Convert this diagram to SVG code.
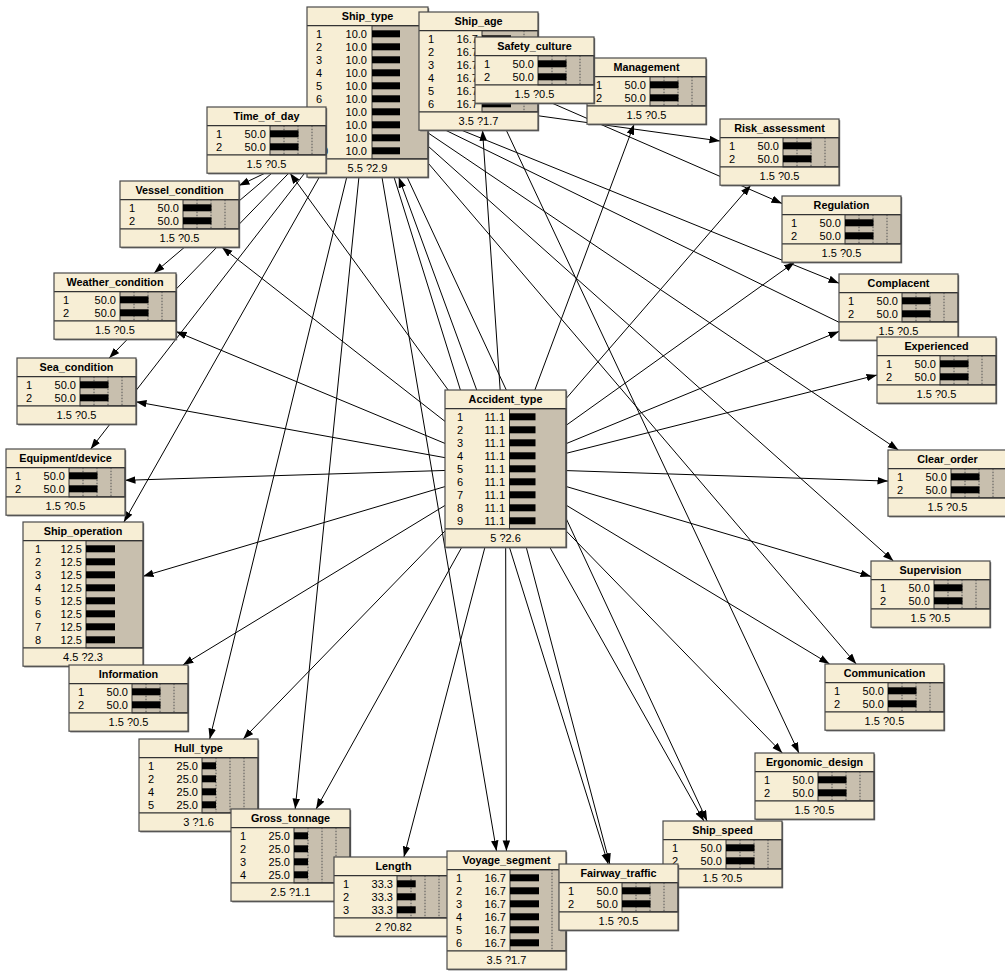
<svg xmlns="http://www.w3.org/2000/svg" xmlns:xlink="http://www.w3.org/1999/xlink" width="1005" height="971" viewBox="0 0 1005 971">
<style>
.box{fill:#F7EED5;stroke:none}
.sh{fill:#6a6a6a;stroke:none}
.ol{fill:none;stroke:#4a4a4a;stroke-width:1.2}
.gray{fill:#C8BFAE;stroke:#333;stroke-width:1}
.sep{stroke:#333;stroke-width:1.2;fill:none}
.dot{stroke:#555;stroke-width:1;stroke-dasharray:1.5,1.5;fill:none}
.bar{fill:#000}
text{font-family:"Liberation Sans",Arial,sans-serif;fill:#000}
.t{font-size:10.8px;font-weight:bold;text-anchor:middle}
.r{font-size:11px}
.v{text-anchor:end}
.f{font-size:11px;text-anchor:middle}
.e{stroke:#000;stroke-width:1;fill:none;marker-end:url(#ah)}
.en{stroke:#000;stroke-width:1;fill:none}
</style>
<defs>
<marker id="ah" markerUnits="userSpaceOnUse" markerWidth="11" markerHeight="8" refX="10.5" refY="3.75" orient="auto">
<path d="M0,0 L10.5,3.75 L0,7.5 Z" fill="#000"/>
</marker>
<g id="b2">
<rect class="sh" x="1.2" y="1.2" width="119" height="66.2"/>
<rect class="box" width="119" height="66.2"/>
<rect class="gray" x="63" y="18.7" width="56" height="29.2"/>
<path class="dot" d="M77 18.7V47.9M91 18.7V47.9M105 18.7V47.9"/>
<rect class="bar" x="63" y="23.3" width="28.5" height="7"/>
<rect class="bar" x="63" y="36.3" width="28.5" height="7"/>
<path class="sep" d="M0 18.7H119M0 47.9H119"/>
<text class="r" x="9" y="30.6">1</text><text class="r v" x="59" y="30.6">50.0</text>
<text class="r" x="9" y="43.6">2</text><text class="r v" x="59" y="43.6">50.0</text>
<text class="f" x="59.5" y="60.9">1.5 ?0.5</text>
<rect class="ol" width="119" height="66.2"/>
</g>
<g id="b6">
<rect class="sh" x="1.2" y="1.2" width="119" height="118.2"/>
<rect class="box" width="119" height="118.2"/>
<rect class="gray" x="63" y="18.7" width="56" height="81.2"/>
<path class="dot" d="M105 18.7V99.9"/>
<rect class="bar" x="63" y="23.3" width="29" height="7"/>
<rect class="bar" x="63" y="36.3" width="29" height="7"/>
<rect class="bar" x="63" y="49.3" width="29" height="7"/>
<rect class="bar" x="63" y="62.3" width="29" height="7"/>
<rect class="bar" x="63" y="75.3" width="29" height="7"/>
<rect class="bar" x="63" y="88.3" width="29" height="7"/>
<path class="sep" d="M0 18.7H119M0 99.9H119"/>
<text class="r" x="9" y="30.6">1</text><text class="r v" x="59" y="30.6">16.7</text>
<text class="r" x="9" y="43.6">2</text><text class="r v" x="59" y="43.6">16.7</text>
<text class="r" x="9" y="56.6">3</text><text class="r v" x="59" y="56.6">16.7</text>
<text class="r" x="9" y="69.6">4</text><text class="r v" x="59" y="69.6">16.7</text>
<text class="r" x="9" y="82.6">5</text><text class="r v" x="59" y="82.6">16.7</text>
<text class="r" x="9" y="95.6">6</text><text class="r v" x="59" y="95.6">16.7</text>
<text class="f" x="59.5" y="112.9">3.5 ?1.7</text>
<rect class="ol" width="119" height="118.2"/>
</g>
</defs>
<rect width="1005" height="971" fill="#fff"/>
<g id="connectors">
<path class="e" d="M505.5 468.6L482.5 130.2"/>
<path class="e" d="M505.5 468.6L634.1 124.2"/>
<path class="e" d="M505.5 468.6L750.8 185.2"/>
<path class="e" d="M505.5 468.6L794.6 262.2"/>
<path class="e" d="M505.5 468.6L839 331.4"/>
<path class="e" d="M505.5 468.6L877 375"/>
<path class="e" d="M505.5 468.6L888 481.1"/>
<path class="e" d="M505.5 468.6L871 576.5"/>
<path class="e" d="M505.5 468.6L829.6 664"/>
<path class="e" d="M505.5 468.6L782.3 753"/>
<path class="e" d="M505.5 468.6L703.9 821"/>
<path class="e" d="M505.5 468.6L609.8 864"/>
<path class="e" d="M505.5 468.6L506.4 851"/>
<path class="e" d="M505.5 468.6L403.9 857"/>
<path class="e" d="M505.5 468.6L316.1 809"/>
<path class="e" d="M505.5 468.6L243.2 739"/>
<path class="e" d="M505.5 468.6L182.9 665"/>
<path class="e" d="M505.5 468.6L143 576.3"/>
<path class="e" d="M505.5 468.6L125 480.3"/>
<path class="e" d="M505.5 468.6L136 401.8"/>
<path class="e" d="M505.5 468.6L176 331.5"/>
<path class="e" d="M505.5 468.6L221.9 247.2"/>
<path class="e" d="M505.5 468.6L290.1 173.2"/>
<path class="e" d="M505.5 468.6L398.7 177.2"/>
<path class="e" d="M367.5 92.1L720 141"/>
<path class="e" d="M367.5 92.1L839 283.2"/>
<path class="en" d="M367.5 92.1L870 337.4"/>
<path class="e" d="M367.5 92.1L898.4 450"/>
<path class="e" d="M367.5 92.1L893.4 561"/>
<path class="e" d="M367.5 92.1L856.2 664"/>
<path class="e" d="M367.5 92.1L707.1 821"/>
<path class="e" d="M367.5 92.1L608.2 864"/>
<path class="e" d="M367.5 92.1L496.5 851"/>
<path class="e" d="M367.5 92.1L295.2 809"/>
<path class="e" d="M367.5 92.1L209.7 739"/>
<path class="e" d="M367.5 92.1L123.9 522"/>
<path class="e" d="M367.5 92.1L90.7 449"/>
<path class="e" d="M367.5 92.1L109.2 358"/>
<path class="e" d="M367.5 92.1L154.1 273"/>
<path class="e" d="M478.5 71.1L239 185.6"/>
<path class="e" d="M478.5 71.1L782 203.4"/>
<path class="e" d="M478.5 71.1L798.9 753"/>
</g>
<g id="node-Ship_type" transform="translate(307,7)">
<rect class="sh" x="1.2" y="1.2" width="121" height="170.2"/>
<rect class="box" width="121" height="170.2"/>
<rect class="gray" x="65" y="18.7" width="56" height="133.2"/>
<rect class="bar" x="65" y="23.3" width="28" height="7"/>
<rect class="bar" x="65" y="36.3" width="28" height="7"/>
<rect class="bar" x="65" y="49.3" width="28" height="7"/>
<rect class="bar" x="65" y="62.3" width="28" height="7"/>
<rect class="bar" x="65" y="75.3" width="28" height="7"/>
<rect class="bar" x="65" y="88.3" width="28" height="7"/>
<rect class="bar" x="65" y="101.3" width="28" height="7"/>
<rect class="bar" x="65" y="114.3" width="28" height="7"/>
<rect class="bar" x="65" y="127.3" width="28" height="7"/>
<rect class="bar" x="65" y="140.3" width="28" height="7"/>
<path class="sep" d="M0 18.7H121M0 151.9H121"/>
<text class="t" x="60.5" y="13.3">Ship_type</text>
<text class="r" x="9" y="30.6">1</text><text class="r v" x="60" y="30.6">10.0</text>
<text class="r" x="9" y="43.6">2</text><text class="r v" x="60" y="43.6">10.0</text>
<text class="r" x="9" y="56.6">3</text><text class="r v" x="60" y="56.6">10.0</text>
<text class="r" x="9" y="69.6">4</text><text class="r v" x="60" y="69.6">10.0</text>
<text class="r" x="9" y="82.6">5</text><text class="r v" x="60" y="82.6">10.0</text>
<text class="r" x="9" y="95.6">6</text><text class="r v" x="60" y="95.6">10.0</text>
<text class="r" x="9" y="108.6">7</text><text class="r v" x="60" y="108.6">10.0</text>
<text class="r" x="9" y="121.6">8</text><text class="r v" x="60" y="121.6">10.0</text>
<text class="r" x="9" y="134.6">9</text><text class="r v" x="60" y="134.6">10.0</text>
<text class="r" x="9" y="147.6">10</text><text class="r v" x="60" y="147.6">10.0</text>
<text class="f" x="60.5" y="164.9">5.5 ?2.9</text>
<rect class="ol" width="121" height="170.2"/>
</g>
<g id="node-Ship_age" transform="translate(419,12)"><use xlink:href="#b6" href="#b6"/><text class="t" x="59.5" y="13.3">Ship_age</text></g>
<g id="node-Management" transform="translate(587,58)"><use xlink:href="#b2" href="#b2"/><text class="t" x="59.5" y="13.3">Management</text></g>
<g id="node-Safety_culture" transform="translate(475,37)"><use xlink:href="#b2" href="#b2"/><text class="t" x="59.5" y="13.3">Safety_culture</text></g>
<g id="node-Time_of_day" transform="translate(207,107)"><use xlink:href="#b2" href="#b2"/><text class="t" x="59.5" y="13.3">Time_of_day</text></g>
<g id="node-Vessel_condition" transform="translate(120,181)"><use xlink:href="#b2" href="#b2"/><text class="t" x="59.5" y="13.3">Vessel_condition</text></g>
<g id="node-Weather_condition" transform="translate(54,273)">
<rect class="sh" x="1.2" y="1.2" width="122" height="66.2"/>
<rect class="box" width="122" height="66.2"/>
<rect class="gray" x="66" y="18.7" width="56" height="29.2"/>
<path class="dot" d="M80 18.7V47.9M94 18.7V47.9M108 18.7V47.9"/>
<rect class="bar" x="66" y="23.3" width="28.5" height="7"/>
<rect class="bar" x="66" y="36.3" width="28.5" height="7"/>
<path class="sep" d="M0 18.7H122M0 47.9H122"/>
<text class="t" x="61" y="13.3">Weather_condition</text>
<text class="r" x="9" y="30.6">1</text><text class="r v" x="62" y="30.6">50.0</text>
<text class="r" x="9" y="43.6">2</text><text class="r v" x="62" y="43.6">50.0</text>
<text class="f" x="61" y="60.9">1.5 ?0.5</text>
<rect class="ol" width="122" height="66.2"/>
</g>
<g id="node-Sea_condition" transform="translate(17,358)"><use xlink:href="#b2" href="#b2"/><text class="t" x="59.5" y="13.3">Sea_condition</text></g>
<g id="node-Equipment_device" transform="translate(6,449)"><use xlink:href="#b2" href="#b2"/><text class="t" x="59.5" y="13.3">Equipment/device</text></g>
<g id="node-Ship_operation" transform="translate(23,522)">
<rect class="sh" x="1.2" y="1.2" width="120" height="144.2"/>
<rect class="box" width="120" height="144.2"/>
<rect class="gray" x="63" y="18.7" width="57" height="107.2"/>
<rect class="bar" x="63" y="23.3" width="29" height="7"/>
<rect class="bar" x="63" y="36.3" width="29" height="7"/>
<rect class="bar" x="63" y="49.3" width="29" height="7"/>
<rect class="bar" x="63" y="62.3" width="29" height="7"/>
<rect class="bar" x="63" y="75.3" width="29" height="7"/>
<rect class="bar" x="63" y="88.3" width="29" height="7"/>
<rect class="bar" x="63" y="101.3" width="29" height="7"/>
<rect class="bar" x="63" y="114.3" width="29" height="7"/>
<path class="sep" d="M0 18.7H120M0 125.9H120"/>
<text class="t" x="60" y="13.3">Ship_operation</text>
<text class="r" x="12" y="30.6">1</text><text class="r v" x="59" y="30.6">12.5</text>
<text class="r" x="12" y="43.6">2</text><text class="r v" x="59" y="43.6">12.5</text>
<text class="r" x="12" y="56.6">3</text><text class="r v" x="59" y="56.6">12.5</text>
<text class="r" x="12" y="69.6">4</text><text class="r v" x="59" y="69.6">12.5</text>
<text class="r" x="12" y="82.6">5</text><text class="r v" x="59" y="82.6">12.5</text>
<text class="r" x="12" y="95.6">6</text><text class="r v" x="59" y="95.6">12.5</text>
<text class="r" x="12" y="108.6">7</text><text class="r v" x="59" y="108.6">12.5</text>
<text class="r" x="12" y="121.6">8</text><text class="r v" x="59" y="121.6">12.5</text>
<text class="f" x="60" y="138.9">4.5 ?2.3</text>
<rect class="ol" width="120" height="144.2"/>
</g>
<g id="node-Information" transform="translate(69,665)"><use xlink:href="#b2" href="#b2"/><text class="t" x="59.5" y="13.3">Information</text></g>
<g id="node-Hull_type" transform="translate(139,739)">
<rect class="sh" x="1.2" y="1.2" width="119" height="92.2"/>
<rect class="box" width="119" height="92.2"/>
<rect class="gray" x="63" y="18.7" width="56" height="55.2"/>
<path class="dot" d="M77 18.7V73.9M91 18.7V73.9M105 18.7V73.9"/>
<rect class="bar" x="63" y="23.3" width="14" height="7"/>
<rect class="bar" x="63" y="36.3" width="14" height="7"/>
<rect class="bar" x="63" y="49.3" width="14" height="7"/>
<rect class="bar" x="63" y="62.3" width="14" height="7"/>
<path class="sep" d="M0 18.7H119M0 73.9H119"/>
<text class="t" x="59.5" y="13.3">Hull_type</text>
<text class="r" x="9" y="30.6">1</text><text class="r v" x="59" y="30.6">25.0</text>
<text class="r" x="9" y="43.6">2</text><text class="r v" x="59" y="43.6">25.0</text>
<text class="r" x="9" y="56.6">4</text><text class="r v" x="59" y="56.6">25.0</text>
<text class="r" x="9" y="69.6">5</text><text class="r v" x="59" y="69.6">25.0</text>
<text class="f" x="59.5" y="86.9">3 ?1.6</text>
<rect class="ol" width="119" height="92.2"/>
</g>
<g id="node-Gross_tonnage" transform="translate(231,809)">
<rect class="sh" x="1.2" y="1.2" width="119" height="92.2"/>
<rect class="box" width="119" height="92.2"/>
<rect class="gray" x="63" y="18.7" width="56" height="55.2"/>
<path class="dot" d="M77 18.7V73.9M91 18.7V73.9M105 18.7V73.9"/>
<rect class="bar" x="63" y="23.3" width="14" height="7"/>
<rect class="bar" x="63" y="36.3" width="14" height="7"/>
<rect class="bar" x="63" y="49.3" width="14" height="7"/>
<rect class="bar" x="63" y="62.3" width="14" height="7"/>
<path class="sep" d="M0 18.7H119M0 73.9H119"/>
<text class="t" x="59.5" y="13.3">Gross_tonnage</text>
<text class="r" x="9" y="30.6">1</text><text class="r v" x="59" y="30.6">25.0</text>
<text class="r" x="9" y="43.6">2</text><text class="r v" x="59" y="43.6">25.0</text>
<text class="r" x="9" y="56.6">3</text><text class="r v" x="59" y="56.6">25.0</text>
<text class="r" x="9" y="69.6">4</text><text class="r v" x="59" y="69.6">25.0</text>
<text class="f" x="59.5" y="86.9">2.5 ?1.1</text>
<rect class="ol" width="119" height="92.2"/>
</g>
<g id="node-Length" transform="translate(334,857)">
<rect class="sh" x="1.2" y="1.2" width="119" height="79.2"/>
<rect class="box" width="119" height="79.2"/>
<rect class="gray" x="63" y="18.7" width="56" height="42.2"/>
<path class="dot" d="M77 18.7V60.9M91 18.7V60.9M105 18.7V60.9"/>
<rect class="bar" x="63" y="23.3" width="18.7" height="7"/>
<rect class="bar" x="63" y="36.3" width="18.7" height="7"/>
<rect class="bar" x="63" y="49.3" width="18.7" height="7"/>
<path class="sep" d="M0 18.7H119M0 60.9H119"/>
<text class="t" x="59.5" y="13.3">Length</text>
<text class="r" x="9" y="30.6">1</text><text class="r v" x="59" y="30.6">33.3</text>
<text class="r" x="9" y="43.6">2</text><text class="r v" x="59" y="43.6">33.3</text>
<text class="r" x="9" y="56.6">3</text><text class="r v" x="59" y="56.6">33.3</text>
<text class="f" x="59.5" y="73.9">2 ?0.82</text>
<rect class="ol" width="119" height="79.2"/>
</g>
<g id="node-Voyage_segment" transform="translate(447,851)"><use xlink:href="#b6" href="#b6"/><text class="t" x="59.5" y="13.3">Voyage_segment</text></g>
<g id="node-Ship_speed" transform="translate(663,821)"><use xlink:href="#b2" href="#b2"/><text class="t" x="59.5" y="13.3">Ship_speed</text></g>
<g id="node-Fairway_traffic" transform="translate(559,864)"><use xlink:href="#b2" href="#b2"/><text class="t" x="59.5" y="13.3">Fairway_traffic</text></g>
<g id="node-Ergonomic_design" transform="translate(755,753)"><use xlink:href="#b2" href="#b2"/><text class="t" x="59.5" y="13.3">Ergonomic_design</text></g>
<g id="node-Communication" transform="translate(825,664)"><use xlink:href="#b2" href="#b2"/><text class="t" x="59.5" y="13.3">Communication</text></g>
<g id="node-Supervision" transform="translate(871,561)"><use xlink:href="#b2" href="#b2"/><text class="t" x="59.5" y="13.3">Supervision</text></g>
<g id="node-Clear_order" transform="translate(888,450)"><use xlink:href="#b2" href="#b2"/><text class="t" x="59.5" y="13.3">Clear_order</text></g>
<g id="node-Complacent" transform="translate(839,274)"><use xlink:href="#b2" href="#b2"/><text class="t" x="59.5" y="13.3">Complacent</text></g>
<g id="node-Experienced" transform="translate(877,337)"><use xlink:href="#b2" href="#b2"/><text class="t" x="59.5" y="13.3">Experienced</text></g>
<g id="node-Regulation" transform="translate(782,196)"><use xlink:href="#b2" href="#b2"/><text class="t" x="59.5" y="13.3">Regulation</text></g>
<g id="node-Risk_assessment" transform="translate(720,119)"><use xlink:href="#b2" href="#b2"/><text class="t" x="59.5" y="13.3">Risk_assessment</text></g>
<g id="node-Accident_type" transform="translate(445,390)">
<rect class="sh" x="1.2" y="1.2" width="121" height="157.2"/>
<rect class="box" width="121" height="157.2"/>
<rect class="gray" x="64.5" y="18.7" width="56.5" height="120.2"/>
<rect class="bar" x="64.5" y="23.3" width="26" height="7"/>
<rect class="bar" x="64.5" y="36.3" width="26" height="7"/>
<rect class="bar" x="64.5" y="49.3" width="26" height="7"/>
<rect class="bar" x="64.5" y="62.3" width="26" height="7"/>
<rect class="bar" x="64.5" y="75.3" width="26" height="7"/>
<rect class="bar" x="64.5" y="88.3" width="26" height="7"/>
<rect class="bar" x="64.5" y="101.3" width="26" height="7"/>
<rect class="bar" x="64.5" y="114.3" width="26" height="7"/>
<rect class="bar" x="64.5" y="127.3" width="26" height="7"/>
<path class="sep" d="M0 18.7H121M0 138.9H121"/>
<text class="t" x="60.5" y="13.3">Accident_type</text>
<text class="r" x="12" y="30.6">1</text><text class="r v" x="60" y="30.6">11.1</text>
<text class="r" x="12" y="43.6">2</text><text class="r v" x="60" y="43.6">11.1</text>
<text class="r" x="12" y="56.6">3</text><text class="r v" x="60" y="56.6">11.1</text>
<text class="r" x="12" y="69.6">4</text><text class="r v" x="60" y="69.6">11.1</text>
<text class="r" x="12" y="82.6">5</text><text class="r v" x="60" y="82.6">11.1</text>
<text class="r" x="12" y="95.6">6</text><text class="r v" x="60" y="95.6">11.1</text>
<text class="r" x="12" y="108.6">7</text><text class="r v" x="60" y="108.6">11.1</text>
<text class="r" x="12" y="121.6">8</text><text class="r v" x="60" y="121.6">11.1</text>
<text class="r" x="12" y="134.6">9</text><text class="r v" x="60" y="134.6">11.1</text>
<text class="f" x="60.5" y="151.9">5 ?2.6</text>
<rect class="ol" width="121" height="157.2"/>
</g>
</svg>
